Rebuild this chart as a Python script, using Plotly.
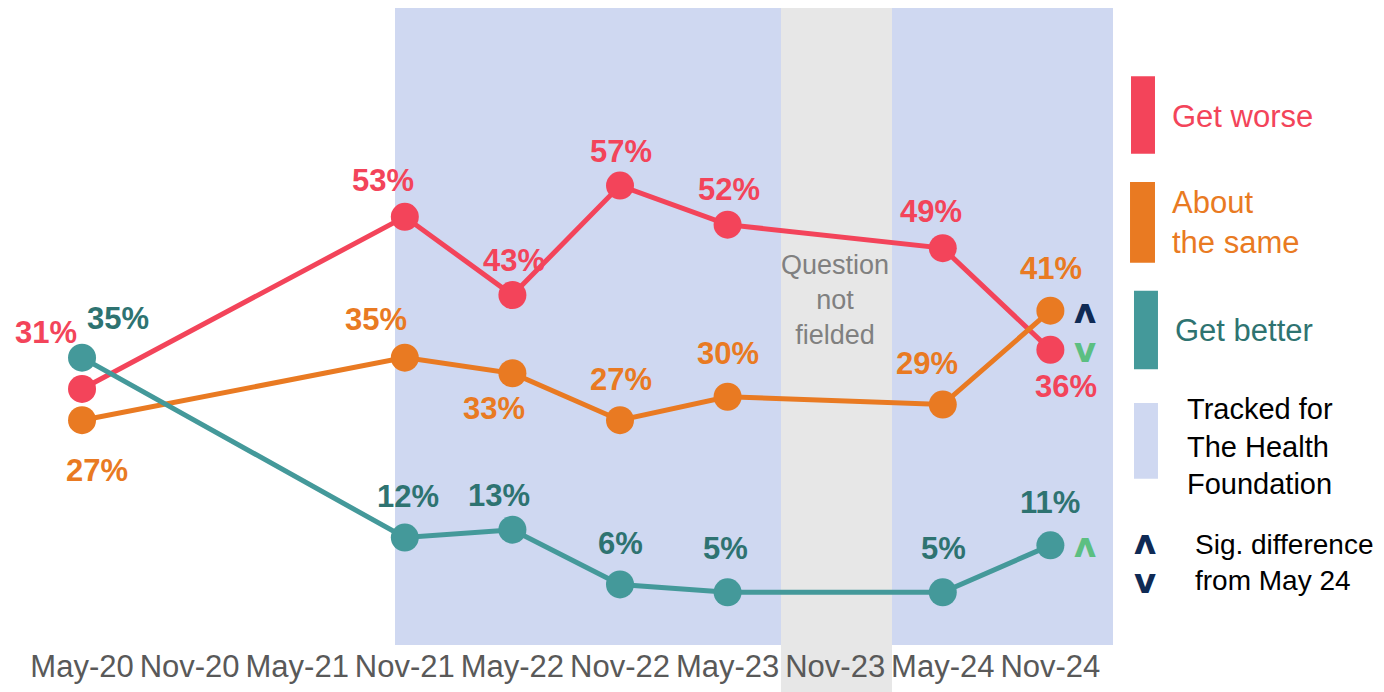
import plotly.graph_objects as go

# Data
waves = ['May-20', 'Nov-20', 'May-21', 'Nov-21', 'May-22', 'Nov-22', 'May-23', 'Nov-23', 'May-24', 'Nov-24']
idx_asked = [0, 3, 4, 5, 6, 8, 9]
get_worse = [31, 53, 43, 57, 52, 49, 36]
about_same = [27, 35, 33, 27, 30, 29, 41]
get_better = [35, 12, 13, 6, 5, 5, 11]

# label offsets (px) per point
worse_off = [(-36, -56), (-22, -36), (2, -35), (1, -34), (1, -35), (-12, -37), (16, 37)]
same_off = [(15, 50), (-29, -38), (-18, 35), (1, -41), (0, -43), (-16, -41), (1, -42)]
better_off = [(36, -39), (3, -41), (-13, -34), (0, -41), (-2, -44), (1, -44), (0, -43)]

RED = '#F3445A'
ORANGE = '#E97A22'
TEAL = '#44999A'
TEAL_TXT = '#2E7371'
BAND = '#CFD8F1'
GREY_BAND = '#E7E7E7'
NAVY = '#0F2A55'
GREEN = '#5CBF82'
FONT = 'Liberation Sans'

fig = go.Figure()

series = [
    ('Get worse', get_worse, RED, RED, worse_off),
    ('About the same', about_same, ORANGE, ORANGE, same_off),
    ('Get better', get_better, TEAL, TEAL_TXT, better_off),
]

for name, vals, col, txtcol, offs in series:
    fig.add_trace(go.Scatter(
        x=idx_asked, y=vals, mode='lines+markers', name=name,
        line=dict(color=col, width=5),
        marker=dict(color=col, size=28),
        hoverinfo='skip', showlegend=False,
    ))
    for xi, v, (dx, dy) in zip(idx_asked, vals, offs):
        fig.add_annotation(x=xi, y=v, text='<b>%d%%</b>' % v, showarrow=False,
                           xshift=dx, yshift=-dy,
                           font=dict(family=FONT, size=31, color=txtcol))

# significance markers at Nov-24
sig = [(about_same[-1], 'ʌ', NAVY), (get_worse[-1], 'v', GREEN), (get_better[-1], 'ʌ', GREEN)]
for v, sym, col in sig:
    fig.add_annotation(x=9, y=v, text='<b>%s</b>' % sym, showarrow=False, xshift=35,
                       font=dict(family='DejaVu Sans', size=34, color=col))

# background bands
fig.add_shape(type='rect', xref='x', yref='paper', x0=2.909, x1=9.582, y0=0, y1=1,
              fillcolor=BAND, line_width=0, layer='below')
fig.add_shape(type='rect', xref='x', yref='paper', x0=6.496, x1=7.528, y0=-0.074, y1=1,
              fillcolor=GREY_BAND, line_width=0, layer='below')
fig.add_annotation(x=7, y=0.542, yref='paper', yanchor='middle', text='Question<br>not<br>fielded',
                   showarrow=False, font=dict(family=FONT, size=27, color='#808080'))

# legend
legend_items = [
    (1.0163, 1.0380, 0.771, 0.893, RED, 'Get worse', RED, 1.0516, 0.830, 31),
    (1.0154, 1.0380, 0.600, 0.727, ORANGE, 'About<br>the same', ORANGE, 1.0516, 0.664, 31),
    (1.0190, 1.0407, 0.433, 0.556, TEAL, 'Get better', TEAL_TXT, 1.0543, 0.493, 31),
    (1.0190, 1.0407, 0.261, 0.380, BAND, 'Tracked for<br>The Health<br>Foundation', 'black', 1.0652, 0.312, 29),
]
for x0, x1, y0, y1, fc, txt, tc, tx, ty, fs in legend_items:
    fig.add_shape(type='rect', xref='paper', yref='paper', x0=x0, x1=x1, y0=y0, y1=y1,
                  fillcolor=fc, line_width=0)
    fig.add_annotation(x=tx, y=ty, xref='paper', yref='paper', text=txt, showarrow=False,
                       xanchor='left', yanchor='middle', align='left',
                       font=dict(family=FONT, size=fs, color=tc))

fig.add_annotation(x=1.0290, y=0.162, xref='paper', yref='paper', text='<b>ʌ</b>', showarrow=False,
                   xanchor='center', yanchor='middle',
                   font=dict(family='DejaVu Sans', size=34, color=NAVY))
fig.add_annotation(x=1.0290, y=0.101, xref='paper', yref='paper', text='<b>v</b>', showarrow=False,
                   xanchor='center', yanchor='middle',
                   font=dict(family='DejaVu Sans', size=34, color=NAVY))
fig.add_annotation(x=1.0724, y=0.129, xref='paper', yref='paper', text='Sig. difference<br>from May 24',
                   showarrow=False, xanchor='left', yanchor='middle', align='left',
                   font=dict(family=FONT, size=28, color='black'))

fig.update_xaxes(range=[-0.688, 9.582], tickmode='array', tickvals=list(range(len(waves))),
                 ticktext=waves, showgrid=False, zeroline=False, showline=False,
                 tickfont=dict(family=FONT, size=31, color='#595959'))
fig.update_yaxes(range=[-1.74, 79.7], visible=False, showgrid=False, zeroline=False)

# page body adds 8px offset, so figure is 8px smaller and margins shifted
fig.update_layout(width=1376, height=684, margin=dict(l=0, r=271, t=0, b=47),
                  paper_bgcolor='white', plot_bgcolor='white', showlegend=False)

fig.write_html('out.html')
